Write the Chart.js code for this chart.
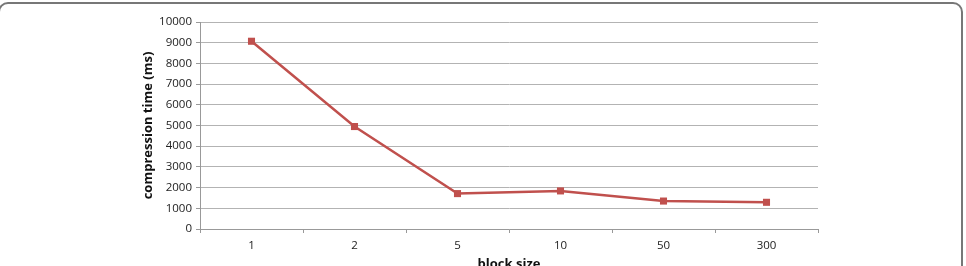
<!DOCTYPE html>
<html>
<head>
<meta charset="utf-8">
<script src="https://cdn.jsdelivr.net/npm/chart.js@4/dist/chart.umd.min.js"></script>
<style>
  html, body { margin: 0; padding: 0; background: #fff; overflow: hidden; }
  #wrap { position: relative; width: 966px; height: 266px; overflow: hidden; }
  #frame { position: absolute; left: -2px; top: 2px; width: 965px; height: 300px;
           border: 2px solid #777; border-radius: 10px; box-sizing: border-box; }
  #box { position: absolute; left: 0; top: 0; width: 966px; height: 280px; }
</style>
</head>
<body>
<div id="wrap">
  <div id="frame"></div>
  <div id="box"><canvas id="chart" width="966" height="280"></canvas></div>
</div>
<script>
// block size categories and compression times (ms)
var blockSizes = ["1", "2", "5", "10", "50", "300"];
var compressionTimes = [9070, 4950, 1710, 1840, 1350, 1290];
var yMin = 0, yMax = 10000, yStep = 1000;

var font = "'Open Sans', 'Liberation Sans', sans-serif";

var ctx = document.getElementById("chart").getContext("2d");
var chart = new Chart(ctx, {
    type: "line",
    data: {
        labels: blockSizes,
        datasets: [{
            data: compressionTimes,
            borderColor: "#C0504D",
            backgroundColor: "#C0504D",
            borderWidth: 2.5,
            pointStyle: "rect",
            pointRadius: 5,
            pointBorderWidth: 0,
            tension: 0,
            fill: false
        }]
    },
    options: {
        responsive: false,
        animation: false,
        layout: { padding: { left: 0, right: 148, top: 22, bottom: 0 } },
        plugins: { legend: { display: false }, tooltip: { enabled: false } },
        scales: {
            x: {
                type: "category",
                offset: true,
                afterFit: function (scale) { scale.height = 51; },
                grid: {
                    display: true,
                    offset: true,
                    drawOnChartArea: false,
                    drawTicks: true,
                    tickLength: 4,
                    color: "#999"
                },
                border: { display: true, color: "#999", width: 1 },
                ticks: { color: "#222", font: { family: font, size: 11.5 }, padding: 6 },
                title: {
                    display: true,
                    text: "block size",
                    color: "#111",
                    font: { family: font, size: 13, weight: "bold" },
                    padding: { top: 0, bottom: 8 }
                }
            },
            y: {
                min: yMin,
                max: yMax,
                afterFit: function (scale) { scale.width = 200; },
                ticks: {
                    stepSize: yStep,
                    color: "#222",
                    font: { family: font, size: 11.5 },
                    padding: 4,
                    callback: function (v) { return String(v); }
                },
                grid: {
                    color: "#b3b3b3",
                    lineWidth: 1,
                    drawTicks: true,
                    tickLength: 4,
                    tickColor: "#999"
                },
                border: { display: true, color: "#999", width: 1 },
                title: {
                    display: true,
                    text: "compression time (ms)",
                    color: "#111",
                    font: { family: font, size: 13, weight: "bold" },
                    padding: { top: 140, bottom: 0 }
                }
            }
        }
    }
});
</script>
</body>
</html>
